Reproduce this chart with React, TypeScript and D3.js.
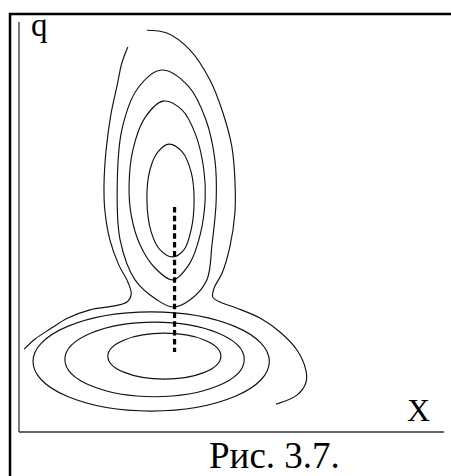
import React from "react";
import * as d3 from "d3";

// Phase-plane sketch: level lines of a two-well potential in (X, q) coordinates.
// All shapes are in plot units, 0..10 on both axes.

type Pt = [number, number];

// Upper well: three closed, egg-shaped levels (inner to outer)
const upperInner: Pt[] = [
  [3.53, 7.02], [3.84, 6.83], [4.05, 6.34], [4.12, 5.66], [4.05, 4.93], [3.88, 4.44],
  [3.62, 4.27], [3.32, 4.44], [3.11, 4.88], [3.01, 5.66], [3.08, 6.39], [3.27, 6.83],
];
const upperMiddle: Pt[] = [
  [3.39, 8.07], [3.84, 7.85], [4.16, 7.24], [4.35, 6.39], [4.38, 5.66], [4.26, 4.8],
  [4.02, 4.12], [3.62, 3.71], [3.2, 4.0], [2.85, 4.56], [2.64, 5.29], [2.59, 6.02],
  [2.68, 6.88], [2.96, 7.66],
];
const upperOuter: Pt[] = [
  [3.36, 8.83], [3.98, 8.44], [4.4, 7.61], [4.61, 6.63], [4.64, 5.66], [4.54, 4.56],
  [4.42, 3.71], [4.02, 3.22], [3.62, 3.05], [3.25, 3.22], [2.73, 3.71], [2.38, 4.68],
  [2.31, 5.9], [2.42, 7.37], [2.8, 8.39],
];

// Lower well: three near-elliptic levels (centre, semi-axes)
const lowerCx = [3.42, 3.19, 3.11];
const lowerCy = [1.85, 1.77, 1.72];
const lowerRx = [1.33, 2.11, 2.78];
const lowerRy = [0.56, 0.91, 1.21];

// Open level enclosing both wells (two branches)
const outerLeft: Pt[] = [
  [0.12, 2.02], [0.38, 2.27], [0.73, 2.51], [1.15, 2.78], [1.67, 2.98], [2.21, 3.07],
  [2.54, 3.17], [2.64, 3.37], [2.56, 3.66], [2.35, 4.07], [2.14, 4.68], [2.02, 5.41],
  [2.0, 6.02], [2.05, 6.88], [2.16, 7.73], [2.31, 8.46], [2.42, 9.0], [2.56, 9.39],
];
const outerRight: Pt[] = [
  [3.01, 9.8], [3.48, 9.73], [4.02, 9.32], [4.49, 8.59], [4.8, 7.78], [5.01, 6.95],
  [5.08, 6.15], [5.08, 5.34], [4.96, 4.51], [4.78, 3.88], [4.59, 3.51], [4.56, 3.29],
  [4.73, 3.17], [5.13, 3.02], [5.67, 2.78], [6.14, 2.44], [6.54, 2.0], [6.75, 1.51],
  [6.75, 1.2], [6.54, 0.9], [6.05, 0.68],
];

// Dotted transition path between the wells
const pathX = [3.66, 3.66];
const pathQ = [5.49, 1.95];

const W = 451;
const H = 476;

export default function App() {
  const x = d3.scaleLinear().domain([0, 10]).range([19, 444]);
  const y = d3.scaleLinear().domain([0, 10]).range([432, 22]);

  const closed = d3
    .line<Pt>()
    .x((d) => x(d[0]))
    .y((d) => y(d[1]))
    .curve(d3.curveCatmullRomClosed.alpha(0.5));
  const open = d3
    .line<Pt>()
    .x((d) => x(d[0]))
    .y((d) => y(d[1]))
    .curve(d3.curveCatmullRom.alpha(0.5));

  const stroke = "#111";
  const sw = 1.15;

  return (
    <svg
      width={W}
      height={H}
      style={{ position: "absolute", left: 0, top: 0, background: "#fff" }}
      fontFamily="'Liberation Serif', 'Times New Roman', serif"
    >
      {/* outer frame */}
      <rect x={10} y={14} width={470} height={490} fill="none" stroke="#000" strokeWidth={2.5} />

      {/* axes */}
      <line x1={x(0)} x2={x(0)} y1={y(10)} y2={y(0)} stroke="#333" strokeWidth={1.3} />
      <line x1={x(0)} x2={x(10)} y1={y(0)} y2={y(0)} stroke="#333" strokeWidth={1.5} />

      <text x={31} y={36} fontSize={33} fill="#000">q</text>
      <text x={407} y={421} fontSize={32} fill="#000">X</text>
      <text x={209} y={468} fontSize={37} fill="#000">Рис. 3.7.</text>

      {/* level lines */}
      <g fill="none" stroke={stroke} strokeWidth={sw}>
        {[upperInner, upperMiddle, upperOuter].map((pts, i) => (
          <path key={"u" + i} d={closed(pts) ?? ""} />
        ))}
        {lowerCx.map((cx, i) => (
          <ellipse
            key={"l" + i}
            cx={x(cx)}
            cy={y(lowerCy[i])}
            rx={x(lowerRx[i]) - x(0)}
            ry={y(0) - y(lowerRy[i])}
          />
        ))}
        <path d={open(outerLeft) ?? ""} />
        <path d={open(outerRight) ?? ""} />
      </g>

      {/* dotted path */}
      <line
        x1={x(pathX[0])}
        x2={x(pathX[1])}
        y1={y(pathQ[0])}
        y2={y(pathQ[1])}
        stroke="#000"
        strokeWidth={3.2}
        strokeDasharray="5.5 3.3"
      />
    </svg>
  );
}
